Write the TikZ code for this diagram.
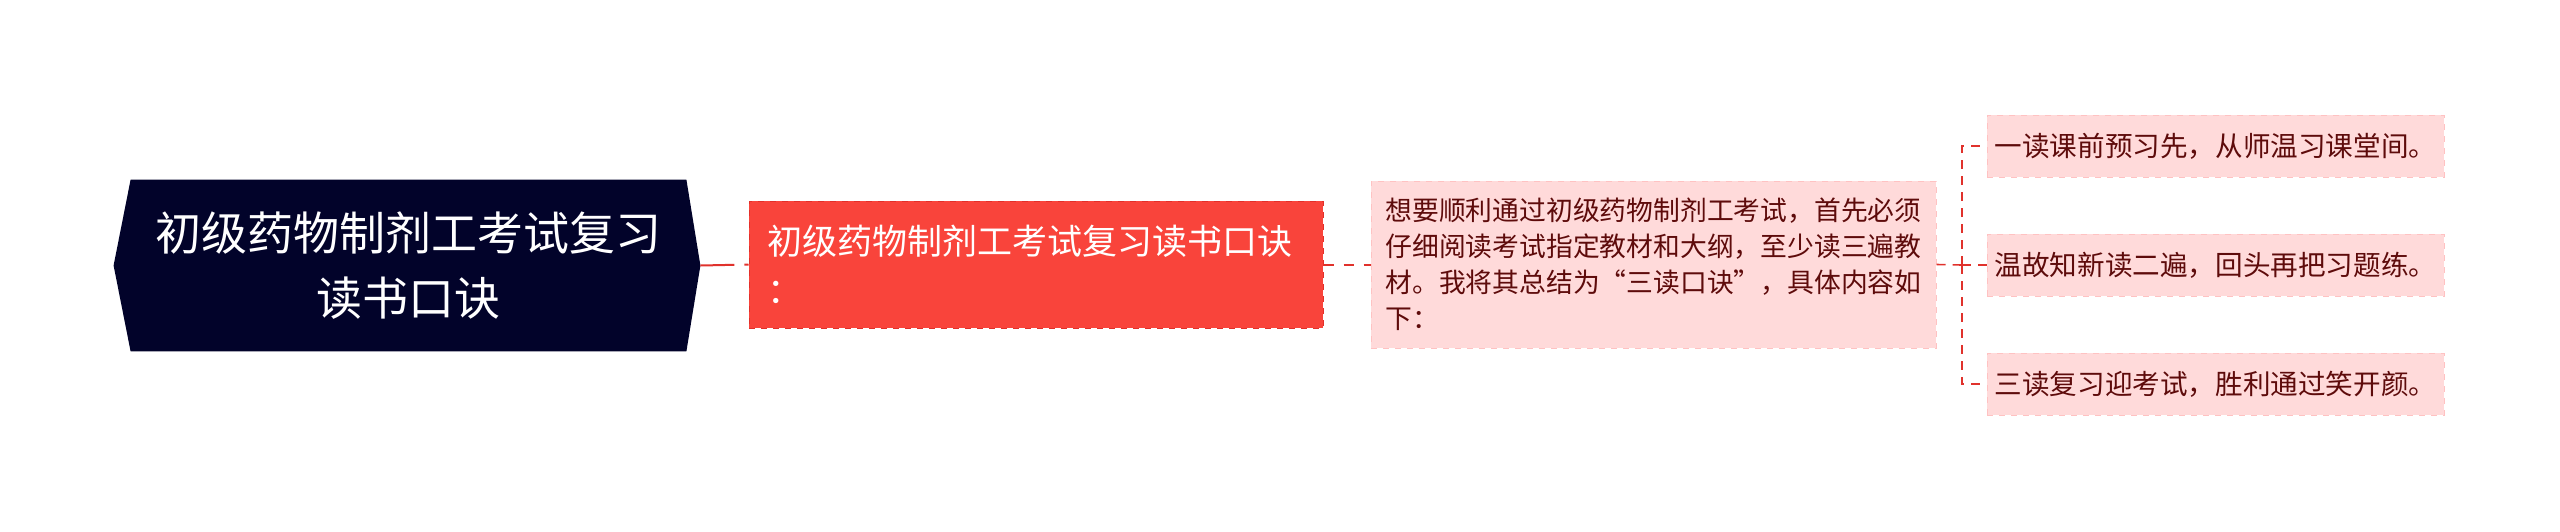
\documentclass[tikz,border=0pt]{standalone}
\usepackage{fontspec}
\setmainfont{Noto Sans CJK SC}
\usepackage{tikz}
\usetikzlibrary{backgrounds}

\definecolor{rootnavy}{HTML}{02032A}
\definecolor{topicred}{HTML}{F9443B}
\definecolor{topicedge}{HTML}{E2302A}
\definecolor{notepink}{HTML}{FFDADA}
\definecolor{noteedge}{HTML}{FFC2C2}
\definecolor{notetext}{HTML}{5E0B0B}
\definecolor{linkred}{HTML}{E0322C}

\begin{document}
\begin{tikzpicture}[x=0.5pt,y=0.5pt,yscale=-1,xscale=1,
  rootbox/.style={align=center,text=white,inner sep=0pt,
    minimum width=277.5pt,minimum height=85.5pt,
    font=\fontsize{23}{32.5}\selectfont},
  topicbox/.style={fill=topicred,draw=topicedge,dashed,line width=0.5pt,
    text=white,align=left,text width=269pt,inner xsep=9pt,
    minimum height=63.5pt,font=\fontsize{17.5}{24.5}\selectfont},
  notebox/.style={fill=notepink,draw=noteedge,dashed,line width=0.5pt,
    text=notetext,align=left,inner sep=0pt},
  leafbox/.style={notebox,minimum width=228.5pt,minimum height=31pt,
    font=\fontsize{13.8}{18}\selectfont},
  rootlink/.style={draw=linkred,line width=1pt,dash pattern=on 17pt off 5pt},
  sublink/.style={draw=linkred,line width=1pt,dash pattern=on 5pt off 5pt},
  leaflink/.style={draw=linkred,line width=0.8pt,dash pattern=on 4.5pt off 3.5pt}]

\useasboundingbox (0,0) rectangle (2560,531);

% root
\node[rootbox] (root) at (408.5,265.5) {初级药物制剂工考试复习\\读书口诀};
\begin{scope}[on background layer]
\fill[rootnavy] (root.north west) -- (root.north east) -- ([xshift=7pt]root.east)
  -- (root.south east) -- (root.south west) -- ([xshift=-8.5pt]root.west) -- cycle;
\end{scope}
\coordinate (roottip) at ([xshift=7pt]root.east);

% topic
\node[topicbox] (topic) at (1036,264.5) {初级药物制剂工考试复习读书口诀\\：};

% note
\node[notebox,minimum width=282.5pt,minimum height=83.5pt,
  font=\fontsize{13.4}{18}\selectfont] (note) at (1653.5,264.5)
  {想要顺利通过初级药物制剂工考试，首先必须\\仔细阅读考试指定教材和大纲，至少读三遍教\\材。我将其总结为“三读口诀”，具体内容如\\下：};

% leaves
\node[leafbox] (leafA) at (2215.5,146) {一读课前预习先，从师温习课堂间。};
\node[leafbox] (leafB) at (2215.5,265) {温故知新读二遍，回头再把习题练。};
\node[leafbox] (leafC) at (2215.5,384) {三读复习迎考试，胜利通过笑开颜。};

% links
\draw[rootlink] (roottip) -- (topic.west);
\draw[sublink] (topic.east) -- (note.west);
\coordinate (fork) at (1962,265);
\draw[leaflink] (note.east) -- (fork);
\draw[leaflink] (fork) |- (leafA.west);
\draw[leaflink] (fork) -- (leafB.west);
\draw[leaflink] (fork) |- (leafC.west);

\end{tikzpicture}
\end{document}
